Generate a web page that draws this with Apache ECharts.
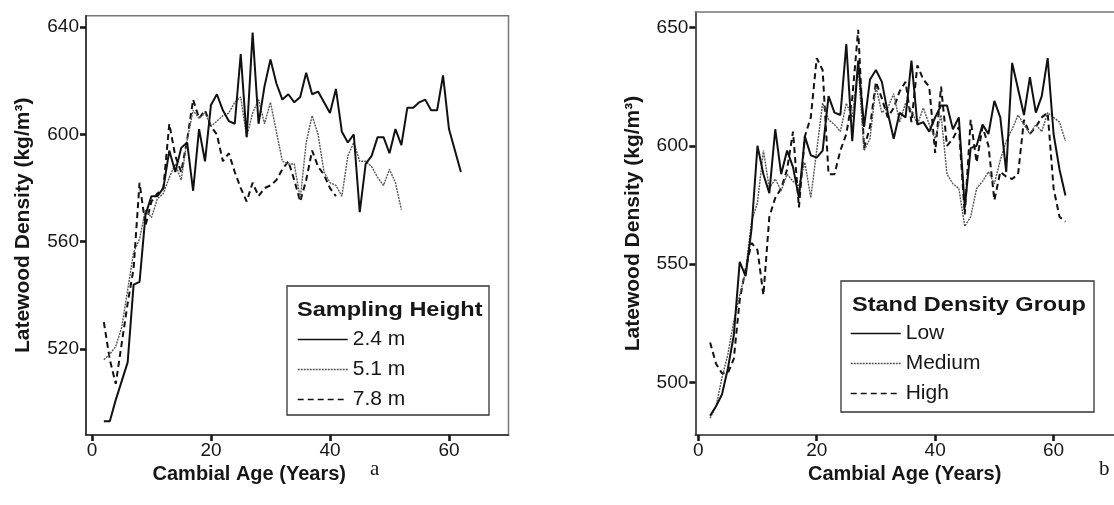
<!DOCTYPE html>
<html><head><meta charset="utf-8">
<script src="https://cdn.jsdelivr.net/npm/echarts@6/dist/echarts.min.js"></script>
<style>html,body{margin:0;padding:0;background:#fff}#c{width:1114px;height:505px}</style>
</head><body><div id="c"></div>
<script>
// ---- data ----
const ages = [2,3,4,5,6,7,8,9,10,11,12,13,14,15,16,17,18,19,20,21,22,23,24,25,26,27,28,29,30,31,32,33,34,35,36,37,38,39,40,41,42,43,44,45,46,47,48,49,50,51,52,53,54,55,56,57,58,59,60,61,62];

const heightNames = ['2.4 m', '5.1 m', '7.8 m'];
const h24 = [493,493,501,508,515,544,545,570,577,577,580,594,586,595,597,579,602,590,611,615,609,605,604,630,599,638,604,618,628,619,613,615,612,614,623,615,616,612,608,617,601,597,600,571,589,592,599,599,593,602,596,610,610,612,613,609,609,622,602,594,586];
const h51 = [516,518,521,528,542,556,561,572,569,576,578,584,589,583,598,609,606,608,603,605,607,608,612,614,599,608,613,604,612,601,590,589,589,576,597,607,600,586,582,581,577,592,597,590,590,588,584,581,587,582,572];
const h78 = [530,516,507,522,537,550,582,566,575,578,580,604,592,586,598,613,606,609,603,600,590,593,586,580,575,582,577,580,581,583,587,590,583,575,583,594,588,585,580,577];

const groupNames = ['Low', 'Medium', 'High'];
const low = [486,490,495,506,520,551,545,565,600,588,580,607,588,598,591,578,604,596,595,598,621,614,613,643,602,636,608,628,632,627,614,603,614,612,636,609,610,606,612,617,617,607,612,574,599,600,609,605,619,612,589,635,624,613,629,614,621,637,605,590,579];
const medium = [485,490,502,512,526,537,547,568,576,598,582,586,581,588,585,583,593,578,598,618,611,609,606,618,612,634,598,603,625,614,616,622,610,618,615,609,616,609,603,613,588,584,582,566,570,582,585,589,584,594,602,607,613,609,605,609,606,614,612,610,602];
const high = [517,508,504,504,510,535,548,559,556,537,570,578,582,590,606,574,604,612,637,632,588,588,598,605,620,649,599,608,627,620,612,616,623,627,610,634,628,625,597,625,600,603,608,571,611,593,608,600,577,589,587,586,588,611,605,608,612,614,582,570,568];

const xTicks = [0, 20, 40, 60];
const yTicksA = [520, 560, 600, 640];
const yTicksB = [500, 550, 600, 650];

const xTitle = 'Cambial Age (Years)';
const yTitle = 'Latewood Density (kg/m³)';

// ---- chart ----
const FONT = '"Liberation Sans", Arial, Helvetica, sans-serif';
const INK = '#161616';
function pairs(vals) { return vals.map((v, i) => [ages[i], v]); }

function xAxis(gridIndex, min, max, padRight) {
  return {
    type: 'value', gridIndex, min, max,
    name: xTitle, nameLocation: 'middle', nameGap: 28,
    nameTextStyle: { fontFamily: FONT, fontWeight: 'bold', fontSize: 20, color: INK, padding: [0, padRight, 0, 0] },
    axisLine: { show: true, onZero: false, lineStyle: { color: '#2a2a2a', width: 1.6 } },
    axisTick: { show: true, inside: false, length: 6, customValues: xTicks, lineStyle: { color: INK, width: 2.6 } },
    axisLabel: { customValues: xTicks, fontFamily: FONT, fontSize: 19, color: INK, margin: 6 },
    splitLine: { show: false }
  };
}
function topFrame(gridIndex, min, max) {
  return {
    type: 'value', gridIndex, min, max, position: 'top',
    axisLine: { show: true, onZero: false, lineStyle: { color: '#777', width: 1.5 } },
    axisTick: { show: false }, axisLabel: { show: false }, splitLine: { show: false }
  };
}
function yAxis(gridIndex, min, max, ticks, gap) {
  return {
    type: 'value', gridIndex, min, max,
    name: yTitle, nameLocation: 'middle', nameGap: gap, nameRotate: 90,
    nameTextStyle: { fontFamily: FONT, fontWeight: 'bold', fontSize: 21, color: INK },
    axisLine: { show: true, onZero: false, lineStyle: { color: '#2a2a2a', width: 1.6 } },
    axisTick: { show: true, inside: false, length: 6, customValues: ticks, lineStyle: { color: INK, width: 2.6 } },
    axisLabel: { customValues: ticks, fontFamily: FONT, fontSize: 19, color: INK, margin: 7 },
    splitLine: { show: false }
  };
}
const styles = [
  { type: 'solid', width: 2, color: '#111' },
  { type: [2, 1], width: 1.4, color: '#555' },
  { type: [6, 4], width: 2, color: '#111' }
];
function line(name, vals, idx, styleIdx) {
  return {
    name, type: 'line', xAxisIndex: idx, yAxisIndex: idx, data: pairs(vals),
    symbol: 'none', lineStyle: Object.assign({}, styles[styleIdx]),
    itemStyle: { color: styles[styleIdx].color }, animation: false, z: 3 - styleIdx
  };
}

const chart = echarts.init(document.getElementById('c'), null, { renderer: 'canvas' });
const legendText = { fontFamily: FONT, fontSize: 21, color: INK, padding: [0, 0, 0, 0] };
const legendCommon = {
  orient: 'vertical', itemWidth: 50, itemHeight: 14, itemGap: 9,
  textStyle: legendText, selectedMode: false,
  itemStyle: { opacity: 0 }, lineStyle: { width: 1.4 }
};
chart.setOption({
  backgroundColor: '#fff',
  animation: false,
  grid: [
    { left: 86, top: 15.7, width: 422.5, height: 419.3, show: true, borderColor: '#777', borderWidth: 1.5, containLabel: false },
    { left: 695.3, top: 12, width: 418.7, height: 423, show: false, containLabel: false }
  ],
  xAxis: [xAxis(0, -1, 70, 96), xAxis(1, -0.5, 70.2, 0), topFrame(1, -0.5, 70.2)],
  yAxis: [yAxis(0, 487.9, 644.3, yTicksA, 52), yAxis(1, 477.9, 656.5, yTicksB, 52)],
  legend: [
    Object.assign({ data: heightNames, left: 292, top: 324 }, legendCommon),
    Object.assign({ data: groupNames, left: 845, top: 318 }, legendCommon)
  ],
  graphic: [
    { type: 'rect', shape: { x: 287, y: 286, width: 202, height: 129 }, style: { fill: 'none', stroke: '#333', lineWidth: 1.3 }, z: 10 },
    { type: 'text', x: 297, y: 300, scaleX: 1.12, style: { text: 'Sampling Height', font: 'bold 21px ' + FONT, fill: INK }, z: 11 },
    { type: 'rect', shape: { x: 841, y: 281, width: 253, height: 131 }, style: { fill: 'none', stroke: '#333', lineWidth: 1.3 }, z: 10 },
    { type: 'text', x: 852, y: 295, scaleX: 1.12, style: { text: 'Stand Density Group', font: 'bold 21px ' + FONT, fill: INK }, z: 11 },
    { type: 'text', x: 370, y: 459, style: { text: 'a', font: '21px "Liberation Serif", "Times New Roman", serif', fill: INK } },
    { type: 'text', x: 1099, y: 459, style: { text: 'b', font: '21px "Liberation Serif", "Times New Roman", serif', fill: INK } }
  ],
  series: [
    line(heightNames[0], h24, 0, 0),
    line(heightNames[1], h51, 0, 1),
    line(heightNames[2], h78, 0, 2),
    line(groupNames[0], low, 1, 0),
    line(groupNames[1], medium, 1, 1),
    line(groupNames[2], high, 1, 2)
  ]
});
</script></body></html>
